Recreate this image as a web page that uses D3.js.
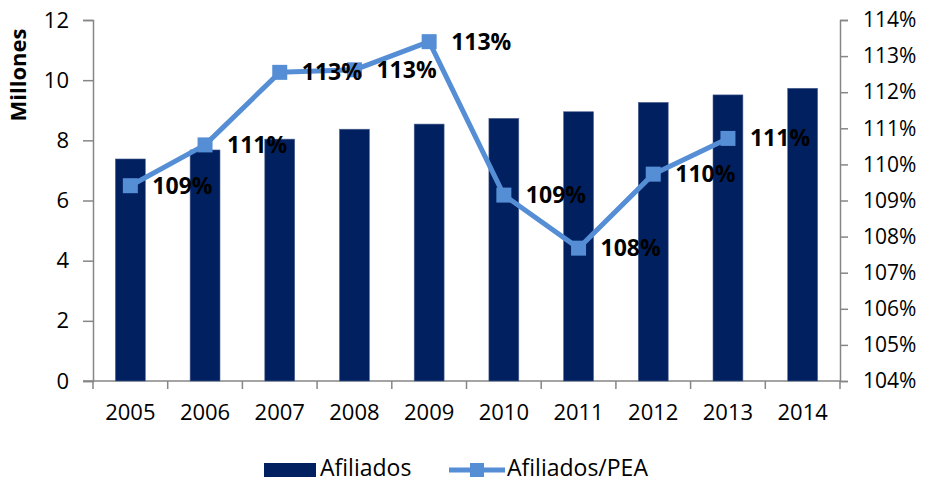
<!DOCTYPE html>
<html>
<head>
<meta charset="utf-8">
<script src="https://cdn.jsdelivr.net/npm/d3@7/dist/d3.min.js"></script>
<style>
  body { margin: 0; background: #fff; }
  text { font-family: "Open Sans", sans-serif; fill: #000; }
</style>
</head>
<body>
<script>
// data
var years = ["2005","2006","2007","2008","2009","2010","2011","2012","2013","2014"];
var afiliados = [7.38, 7.68, 8.04, 8.37, 8.54, 8.73, 8.95, 9.26, 9.51, 9.73];
var ratioYears = ["2005","2006","2007","2008","2009","2010","2011","2012","2013"];
var ratio = [1.0941, 1.1054, 1.1255, 1.1262, 1.134, 1.0915, 1.0768, 1.0973, 1.1072];
var leftTicks = [0, 2, 4, 6, 8, 10, 12];
var rightTicks = [1.04, 1.05, 1.06, 1.07, 1.08, 1.09, 1.10, 1.11, 1.12, 1.13, 1.14];

var W = 926, H = 483;
var margin = {top: 20, right: 86, bottom: 102, left: 93},
    w = W - margin.left - margin.right,
    h = H - margin.top - margin.bottom;

var barColor = "#002060",
    lineColor = "#558ed5",
    axisColor = "#868686";

var svg = d3.select("body").append("svg")
    .attr("width", W)
    .attr("height", H);

var g = svg.append("g")
    .attr("transform", "translate(" + margin.left + "," + margin.top + ")");

/*Scales*/
var x = d3.scaleBand()
    .domain(years)
    .range([0, w])
    .paddingInner(0.6)
    .paddingOuter(0.3);
var yL = d3.scaleLinear().domain([0, 12]).range([h, 0]);
var yR = d3.scaleLinear().domain([1.04, 1.14]).range([h, 0]);

/*Axes*/
var yAxisL = d3.axisLeft(yL).tickValues(leftTicks).tickSize(10).tickPadding(14);
var yAxisR = d3.axisRight(yR).tickValues(rightTicks).tickSize(8)
    .tickPadding(15).tickFormat(d3.format(".0%"));

var gl = g.append("g").attr("class", "axis").call(yAxisL);
gl.selectAll("text").style("font-size", "22px");

var gr = g.append("g").attr("class", "axis")
    .attr("transform", "translate(" + w + ",0)")
    .call(yAxisR);
gr.selectAll("text").style("font-size", "21px");

// x axis: ticks at band boundaries
var gx = g.append("g").attr("class", "axis")
    .attr("transform", "translate(0," + h + ")");
gx.append("line")
    .attr("x1", -10).attr("x2", w)
    .attr("stroke", axisColor).attr("stroke-width", 1.5);
var bounds = years.map(function(d) { return x(d) - x.step() * x.paddingInner() / 2; }).concat([w]);
gx.selectAll(".xt").data(bounds).enter().append("line")
    .attr("x1", function(d) { return d; })
    .attr("x2", function(d) { return d; })
    .attr("y1", 0).attr("y2", 8)
    .attr("stroke", axisColor).attr("stroke-width", 1.5);
gx.selectAll(".xl").data(years).enter().append("text")
    .attr("x", function(d) { return x(d) + x.bandwidth() / 2; })
    .attr("y", 39)
    .attr("text-anchor", "middle")
    .style("font-size", "22px")
    .text(function(d) { return d; });

g.selectAll(".axis path").attr("stroke", axisColor).attr("stroke-width", 1.5);
g.selectAll(".axis .tick line").attr("stroke", axisColor).attr("stroke-width", 1.5);

// y title
svg.append("text")
    .attr("transform", "translate(26,75) rotate(-90)")
    .attr("text-anchor", "middle")
    .style("font-size", "22px")
    .style("font-weight", "bold")
    .text("Millones");

// bars
g.selectAll(".bar").data(afiliados).enter().append("rect")
    .attr("class", "bar")
    .attr("x", function(d, i) { return x(years[i]); })
    .attr("y", function(d) { return yL(d); })
    .attr("width", x.bandwidth())
    .attr("height", function(d) { return h - yL(d); })
    .attr("fill", barColor)
    .attr("stroke", "#4f6290")
    .attr("stroke-width", 0.6);

// line
var cx = function(i) { return x(ratioYears[i]) + x.bandwidth() / 2; };
var line = d3.line()
    .x(function(d, i) { return cx(i); })
    .y(function(d) { return yR(d); });
g.append("path").datum(ratio)
    .attr("d", line)
    .attr("fill", "none")
    .attr("stroke", lineColor)
    .attr("stroke-width", 5)
    .attr("stroke-linejoin", "round");

var ms = 15;
g.selectAll(".mk").data(ratio).enter().append("rect")
    .attr("x", function(d, i) { return cx(i) - ms / 2; })
    .attr("y", function(d) { return yR(d) - ms / 2; })
    .attr("width", ms).attr("height", ms)
    .attr("fill", lineColor);

g.selectAll(".lbl").data(ratio).enter().append("text")
    .attr("x", function(d, i) { return cx(i) + 22; })
    .attr("y", function(d) { return yR(d) + 8; })
    .style("font-size", "23px")
    .style("font-weight", "bold")
    .text(function(d) { return d3.format(".0%")(d); });

// legend
var lg = svg.append("g");
lg.append("rect").attr("x", 264).attr("y", 463).attr("width", 52).attr("height", 14)
    .attr("fill", barColor);
lg.append("text").attr("x", 320).attr("y", 476).style("font-size", "23px").text("Afiliados");
lg.append("line").attr("x1", 449).attr("x2", 505).attr("y1", 470).attr("y2", 470)
    .attr("stroke", lineColor).attr("stroke-width", 5);
lg.append("rect").attr("x", 470).attr("y", 463).attr("width", 14).attr("height", 14)
    .attr("fill", lineColor);
lg.append("text").attr("x", 507).attr("y", 476).style("font-size", "23px").text("Afiliados/PEA");
</script>
</body>
</html>
